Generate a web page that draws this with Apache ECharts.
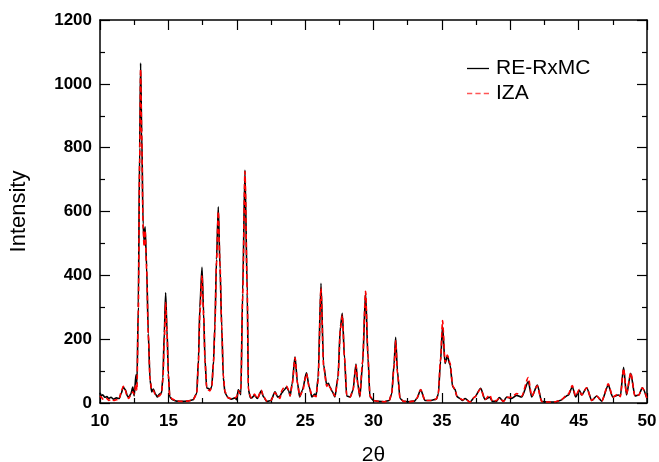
<!DOCTYPE html>
<html>
<head>
<meta charset="utf-8">
<script src="https://cdn.jsdelivr.net/npm/echarts@6/dist/echarts.min.js"></script>
<style>html,body{margin:0;padding:0;background:#fff;}#c{width:659px;height:462px;}</style>
</head>
<body>
<div id="c"></div>
<script>
const twoTheta = [10.0,10.1,10.2,10.35,10.5,10.65,10.8,11.0,11.2,11.4,11.55,11.7,11.85,12.0,12.1,12.25,12.4,12.5,12.63,12.7,12.8,12.9,12.97,13.05,13.15,13.22,13.3,13.41,13.53,13.66,13.78,13.9,14.05,14.2,14.35,14.5,14.6,14.7,14.8,14.9,15.0,15.1,15.3,15.6,16.0,16.4,16.8,17.07,17.2,17.3,17.46,17.58,17.68,17.8,17.95,18.04,18.17,18.3,18.4,18.52,18.65,18.78,18.9,19.02,19.14,19.38,19.6,19.87,20.0,20.11,20.22,20.3,20.43,20.6,20.77,20.85,21.0,21.1,21.3,21.5,21.8,21.95,22.2,22.5,22.8,23.0,23.16,23.3,23.45,23.65,23.8,23.9,24.05,24.26,24.45,24.6,24.8,25.1,25.3,25.5,25.7,25.8,25.95,26.16,26.35,26.58,26.7,26.82,27.0,27.18,27.4,27.58,27.72,27.88,28.04,28.3,28.5,28.72,28.85,29.0,29.2,29.42,29.6,29.74,30.0,30.4,30.8,31.15,31.33,31.5,31.62,31.75,31.94,32.2,32.6,33.0,33.16,33.45,33.77,34.2,34.6,34.74,34.9,35.05,35.23,35.4,35.6,35.79,35.96,36.1,36.33,36.5,36.7,37.06,37.4,37.84,38.15,38.5,38.7,39.0,39.2,39.5,39.74,40.1,40.47,40.84,41.32,41.57,41.98,42.3,42.8,43.3,43.64,44.25,44.54,44.78,45.05,45.22,45.59,45.96,46.32,46.69,47.17,47.49,47.9,48.05,48.29,48.5,48.81,49.12,49.4,49.66,50.0];
const rermc = [32,22,26,18,20,14,18,12,16,14,30,50,42,22,18,28,50,22,88,60,300,800,1065,850,560,510,552,427,218,72,35,44,28,19,28,32,80,220,345,230,90,19,10,6,5,6,10,30,135,300,425,280,135,47,45,41,51,130,239,450,615,420,239,80,31,16,12,16,10,41,35,26,344,730,344,41,16,16,24,14,38,20,5,8,35,18,22,32,40,50,38,22,60,145,60,19,40,95,50,19,28,22,80,375,120,56,62,50,35,19,80,240,281,140,22,19,40,122,60,19,120,346,140,19,8,5,4,8,28,120,206,100,14,5,4,6,14,41,8,8,12,28,130,240,124,147,119,51,43,20,14,8,14,3,19,46,11,18,5,5,17,5,19,14,24,19,67,19,56,5,3,3,8,25,51,19,40,25,48,8,22,6,56,19,25,22,112,25,93,22,25,48,14];
const iza = [22,18,12,10,14,8,12,8,10,12,35,52,40,20,14,25,35,28,60,40,280,760,1045,840,560,490,540,420,215,75,40,40,25,22,22,30,75,190,315,220,85,22,12,6,5,6,10,28,125,280,400,270,130,50,40,38,50,125,235,440,600,430,240,85,35,16,14,16,20,38,30,45,330,725,350,45,20,16,28,14,40,20,6,8,33,20,14,40,48,52,40,22,55,142,60,22,35,92,50,22,22,20,70,360,115,52,60,48,35,22,75,230,275,145,25,19,40,118,60,22,130,350,145,22,8,5,4,8,30,110,195,95,16,5,4,6,14,42,8,8,12,30,135,258,128,150,125,55,40,22,14,10,12,3,19,44,11,25,5,8,15,5,17,18,30,22,80,22,54,5,3,4,8,28,55,22,42,25,48,8,22,6,60,19,28,20,108,28,95,22,25,48,14];
const seriesNames = ['RE-RxMC','IZA'];
const xTicks = [10,15,20,25,30,35,40,45,50];
const yTicks = [0,200,400,600,800,1000,1200];

const chart = echarts.init(document.getElementById('c'));
const FONT = '"Liberation Sans", Arial, sans-serif';
const pairs = ys => twoTheta.map((x,i)=>[x, ys[i]]);
const tickCommon = {
  axisLine:{show:true, onZero:false, lineStyle:{color:'#000', width:1.5}},
  axisTick:{show:true, inside:true, length:10, lineStyle:{color:'#000', width:1.2}},
  minorTick:{show:true, splitNumber:2, length:5, lineStyle:{color:'#000', width:1.2}},
  splitLine:{show:false}
};
chart.setOption({
  animation:false,
  backgroundColor:'#fff',
  grid:{left:100, right:12, top:20, bottom:59, containLabel:false, outerBoundsMode:'none'},
  legend:{
    show:true, orient:'vertical', left:462, top:53, itemWidth:22, itemHeight:2, itemGap:4,
    textStyle:{fontFamily:FONT, fontSize:21, color:'#000', padding:[0,0,0,2]},
    data:[
      {name:seriesNames[0], icon:'path://M0,0H22V1.3H0Z', itemStyle:{color:'#000'}},
      {name:seriesNames[1], icon:'path://M0,0H5V1.3H0Z M8,0H13V1.3H8Z M16,0H21V1.3H16Z', itemStyle:{color:'#ff5555'}}
    ]
  },
  xAxis:[
    Object.assign({type:'value', position:'bottom', min:xTicks[0], max:xTicks[xTicks.length-1], interval:5,
      name:'2θ', nameLocation:'middle', nameGap:42,
      nameTextStyle:{fontFamily:FONT, fontSize:21, color:'#000'},
      axisLabel:{fontFamily:FONT, fontSize:17, fontWeight:'bold', color:'#000', margin:10}}, tickCommon),
    Object.assign({type:'value', position:'top', min:10, max:50, interval:5, axisLabel:{show:false}}, tickCommon)
  ],
  yAxis:[
    Object.assign({type:'value', position:'left', min:yTicks[0], max:yTicks[yTicks.length-1], interval:200,
      name:'Intensity', nameLocation:'middle', nameGap:70,
      nameTextStyle:{fontFamily:FONT, fontSize:22, color:'#000'},
      axisLabel:{fontFamily:FONT, fontSize:17, fontWeight:'bold', color:'#000', margin:8,
        formatter:v=>String(v)}}, tickCommon),
    Object.assign({type:'value', position:'right', min:0, max:1200, interval:200, axisLabel:{show:false}}, tickCommon)
  ],
  series:[
    {name:seriesNames[0], type:'line', data:pairs(rermc), showSymbol:false, symbol:'none',
     smooth:0.25, smoothMonotone:'x',
     lineStyle:{color:'#000', width:1.6}, itemStyle:{color:'#000'}, z:2},
    {name:seriesNames[1], type:'line', data:pairs(iza), showSymbol:false, symbol:'none',
     smooth:0.25, smoothMonotone:'x',
     lineStyle:{color:'#ff0000', width:1.6, type:[5,3]}, itemStyle:{color:'#ff0000'}, z:3}
  ]
});
</script>
</body>
</html>
